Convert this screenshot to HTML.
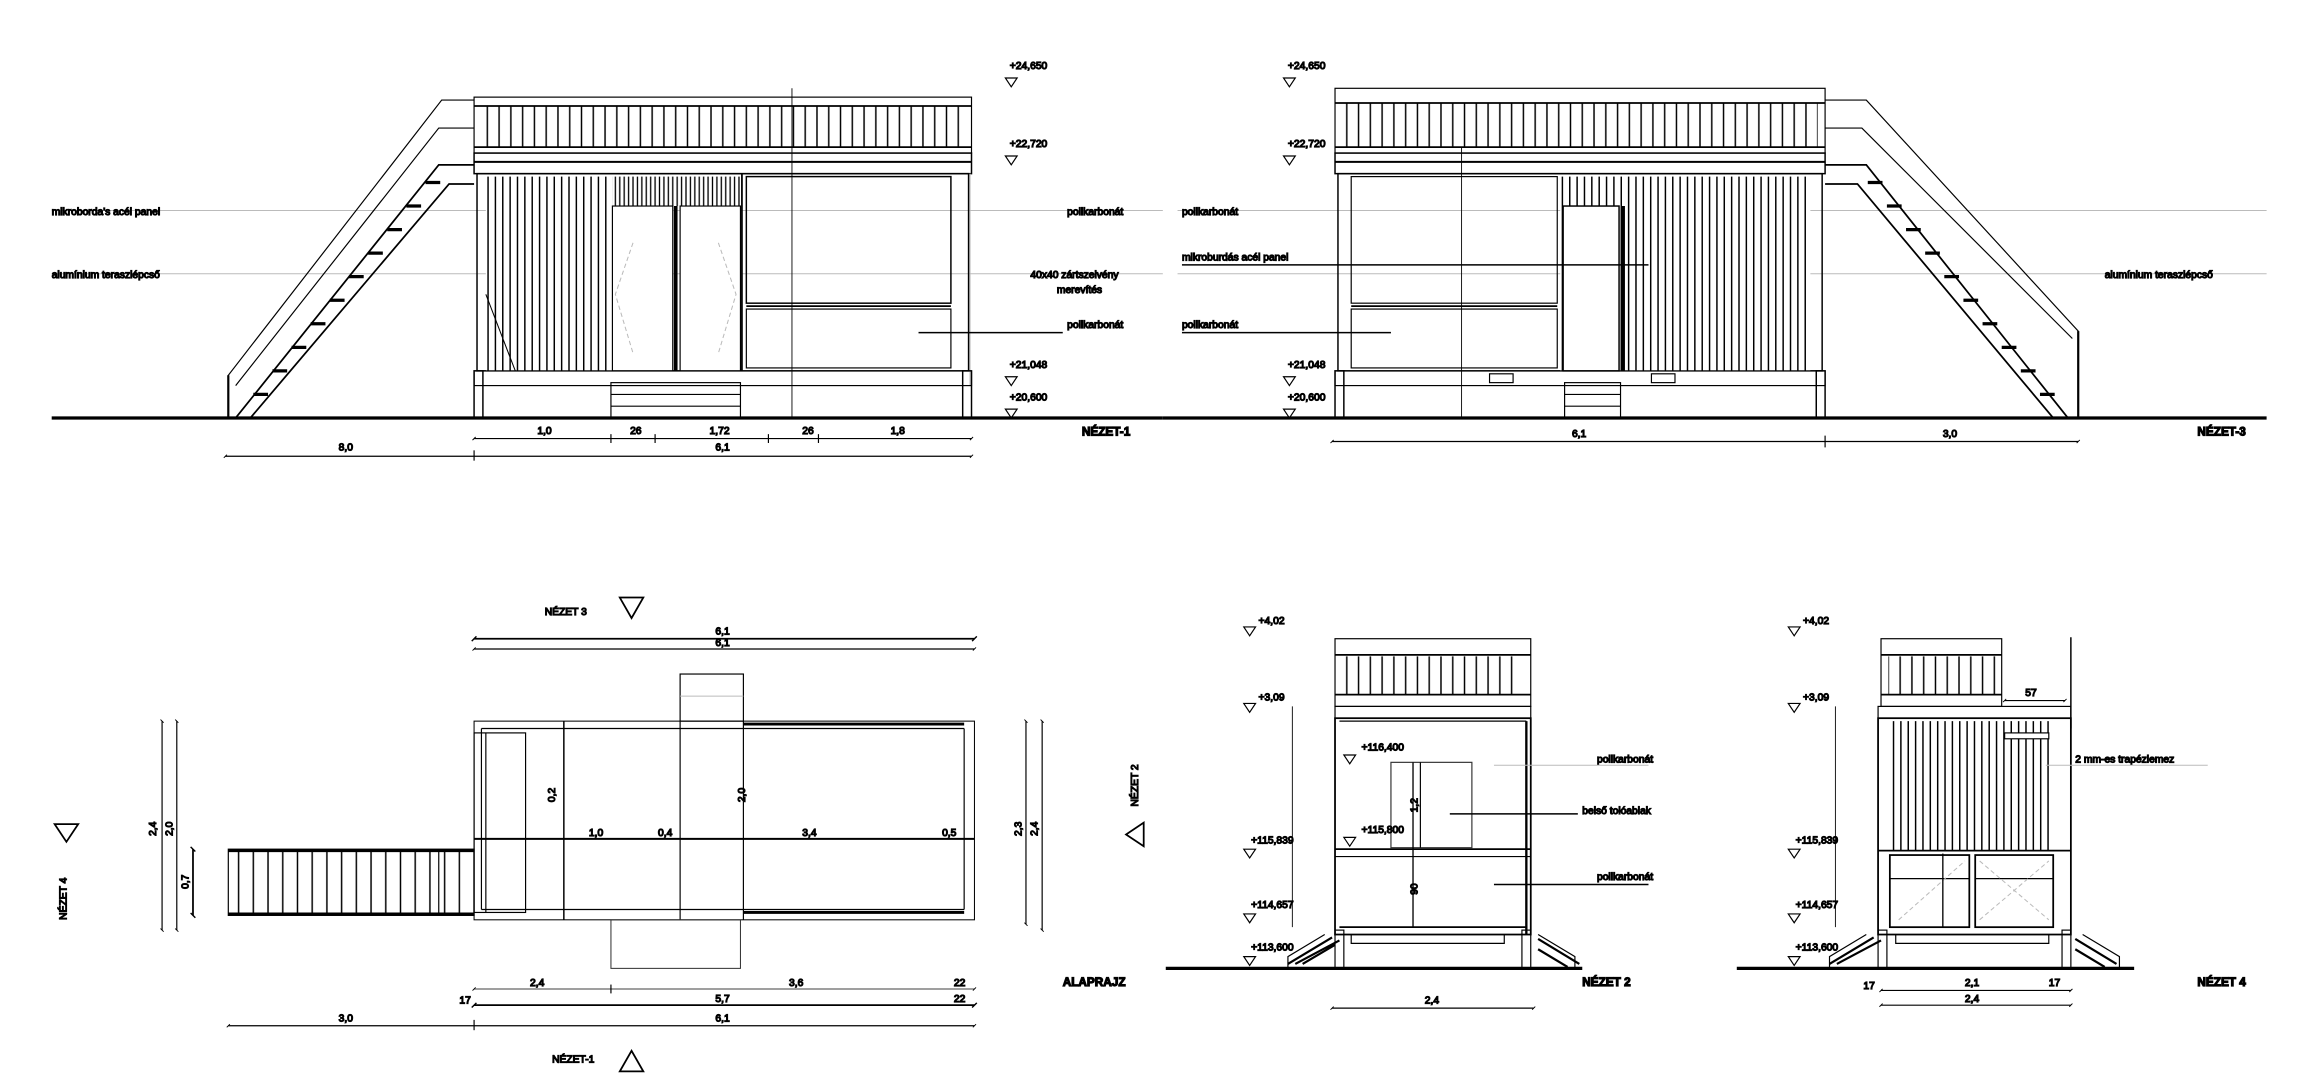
<!DOCTYPE html>
<html><head><meta charset="utf-8"><style>
html,body{margin:0;padding:0;background:#fff;}
svg{display:block;}
text{font-family:"Liberation Sans",sans-serif;font-size:7px;fill:#333;}
.b{font-weight:bold;font-size:8px;fill:#000;}
.g{stroke:#bbb;stroke-width:0.7;fill:none;}
</style></head><body>
<svg width="2308" height="1092" viewBox="0 0 1568 742" xmlns="http://www.w3.org/2000/svg">
<defs>
<pattern id="slat" width="5" height="10" patternUnits="userSpaceOnUse"><rect width="5" height="10" fill="#fff"/><line x1="1.5" y1="0" x2="1.5" y2="10" stroke="#000" stroke-width="1"/></pattern>
<pattern id="slat2" width="3" height="10" patternUnits="userSpaceOnUse"><rect width="3" height="10" fill="#fff"/><line x1="1" y1="0" x2="1" y2="10" stroke="#000" stroke-width="0.9"/></pattern>
<pattern id="rail" width="8" height="10" patternUnits="userSpaceOnUse"><rect width="8" height="10" fill="#fff"/><line x1="3" y1="0" x2="3" y2="10" stroke="#000" stroke-width="1"/></pattern>
<pattern id="step" width="10" height="10" patternUnits="userSpaceOnUse"><rect width="10" height="10" fill="#fff"/><line x1="2" y1="0" x2="2" y2="10" stroke="#000" stroke-width="1"/></pattern>
<marker id="t" viewBox="0 0 6 6" refX="3" refY="3" markerWidth="4" markerHeight="4" orient="auto"><line x1="1" y1="5" x2="5" y2="1" stroke="#000" stroke-width="1.2"/></marker>
</defs>
<g stroke="#000" fill="none" stroke-width="0.8">

<!-- ============ NEZET-1 ============ -->
<line x1="35" y1="284" x2="790" y2="284" stroke-width="2.2"/>
<line class="g" x1="35" y1="143" x2="790" y2="143"/>
<line class="g" x1="35" y1="186" x2="790" y2="186"/>
<rect x="322" y="66" width="338" height="38"/>
<rect x="328" y="72" width="326" height="28" fill="url(#rail)" stroke="none"/>
<line x1="322" y1="72" x2="660" y2="72" stroke-width="1.2"/>
<line x1="322" y1="100" x2="660" y2="100" stroke-width="1.2"/>
<rect x="322" y="104" width="338" height="14" stroke-width="1"/>
<line x1="322" y1="110" x2="660" y2="110" stroke-width="1.3"/>
<rect x="324" y="118" width="334" height="134" stroke-width="1"/>
<rect x="330" y="120" width="86" height="132" fill="url(#slat)" stroke="none"/>
<rect x="416" y="120" width="88" height="20" fill="url(#slat2)" stroke="none"/>
<rect x="416" y="140" width="41" height="112" fill="#fff"/>
<rect x="462" y="140" width="41" height="112" fill="#fff"/>
<line x1="459" y1="140" x2="459" y2="252" stroke-width="2.5"/>
<line x1="504" y1="118" x2="504" y2="252" stroke-width="1.2"/>
<rect x="507" y="120" width="139" height="86" stroke-width="1"/>
<line x1="507" y1="208" x2="646" y2="208" stroke-width="1.2"/>
<rect x="507" y="210" width="139" height="40"/>
<line x1="659" y1="118" x2="659" y2="262" class="g"/>
<path class="g" d="M430 165 L418 200 L430 240 M488 165 L500 200 L488 240" stroke-dasharray="3 2"/>
<line x1="330" y1="200" x2="350" y2="252" stroke-width="0.7"/>
<rect x="322" y="252" width="338" height="10"/>
<rect x="322" y="252" width="6" height="32" stroke-width="1"/>
<rect x="654" y="252" width="6" height="32" stroke-width="1"/>
<rect x="415" y="260" width="88" height="24"/>
<line x1="415" y1="268" x2="503" y2="268"/><line x1="415" y1="276" x2="503" y2="276"/>
<line x1="538" y1="60" x2="538" y2="284" stroke-width="0.6"/>
<path d="M155 284 L155 255 L300 68 L322 68"/>
<path d="M160 262 L298 87 L322 87"/>
<path d="M160 284 L298 112 L322 112" stroke-width="1.2"/>
<path d="M170 284 L305 125 L322 125" stroke-width="1.2"/>
<path d="M172 268 l10 0 M185 252 l10 0 M198 236 l10 0 M211 220 l10 0 M224 204 l10 0 M237 188 l10 0 M250 172 l10 0 M263 156 l10 0 M276 140 l10 0 M289 124 l10 0" stroke-width="2.2"/>
<line x1="155" y1="284" x2="155" y2="255" stroke-width="1.5"/>
<text x="35" y="146">mikroborda's acél panel</text>
<text x="35" y="189">alumínium teraszlépcső</text>
<text x="725" y="146">polikarbonát</text>
<text x="700" y="189">40x40 zártszelvény</text>
<text x="718" y="199">merevítés</text>
<text x="725" y="223">polikarbonát</text>
<line x1="624" y1="226" x2="722" y2="226" stroke-width="1"/>
<text x="686" y="47">+24,650</text><path d="M683 53 h8 l-4 6z"/>
<text x="686" y="100">+22,720</text><path d="M683 106 h8 l-4 6z"/>
<text x="686" y="250">+21,048</text><path d="M683 256 h8 l-4 6z"/>
<text x="686" y="272">+20,600</text><path d="M683 278 h8 l-4 6z"/>
<text class="b" x="735" y="296">NÉZET-1</text>
<line x1="322" y1="298" x2="660" y2="298" marker-start="url(#t)" marker-end="url(#t)"/>
<line x1="415" y1="295" x2="415" y2="301"/><line x1="445" y1="295" x2="445" y2="301"/><line x1="522" y1="295" x2="522" y2="301"/><line x1="556" y1="295" x2="556" y2="301"/>
<text x="365" y="295">1,0</text><text x="428" y="295">26</text><text x="482" y="295">1,72</text><text x="545" y="295">26</text><text x="605" y="295">1,8</text>
<line x1="153" y1="310" x2="660" y2="310" marker-start="url(#t)" marker-end="url(#t)"/>
<line x1="322" y1="306" x2="322" y2="313"/>
<text x="230" y="306">8,0</text><text x="486" y="306">6,1</text>

<!-- ============ NEZET-3 ============ -->
<line x1="790" y1="284" x2="1540" y2="284" stroke-width="2.2"/>
<line class="g" x1="800" y1="143" x2="1540" y2="143"/>
<line class="g" x1="800" y1="186" x2="1540" y2="186"/>
<rect x="907" y="60" width="333" height="44"/>
<rect x="913" y="70" width="322" height="30" fill="url(#rail)" stroke="none"/>
<line x1="907" y1="70" x2="1240" y2="70" stroke-width="1.2"/>
<line x1="907" y1="100" x2="1240" y2="100" stroke-width="1.2"/>
<rect x="907" y="104" width="333" height="14" stroke-width="1"/>
<line x1="907" y1="110" x2="1240" y2="110" stroke-width="1.3"/>
<rect x="909" y="118" width="329" height="134" stroke-width="1"/>
<rect x="918" y="120" width="140" height="86"/>
<line x1="918" y1="208" x2="1058" y2="208" stroke-width="1.2"/>
<rect x="918" y="210" width="140" height="40"/>
<rect x="1060" y="120" width="170" height="132" fill="url(#slat)" stroke="none"/>
<rect x="1062" y="140" width="38" height="112" fill="#fff" stroke-width="1"/>
<line x1="1103" y1="140" x2="1103" y2="252" stroke-width="2"/>
<line x1="993" y1="100" x2="993" y2="284" stroke-width="0.6"/>
<rect x="907" y="252" width="333" height="10"/>
<rect x="907" y="252" width="6" height="32" stroke-width="1"/>
<rect x="1234" y="252" width="6" height="32" stroke-width="1"/>
<rect x="1063" y="260" width="38" height="24"/>
<line x1="1063" y1="268" x2="1101" y2="268"/><line x1="1063" y1="276" x2="1101" y2="276"/>
<rect x="1012" y="254" width="16" height="6"/><rect x="1122" y="254" width="16" height="6"/>
<path d="M1412 284 L1412 225 L1268 68 L1240 68"/>
<path d="M1408 230 L1265 87 L1240 87"/>
<path d="M1405 284 L1268 112 L1240 112" stroke-width="1.2"/>
<path d="M1395 284 L1262 125 L1240 125" stroke-width="1.2"/>
<path d="M1386 268 l10 0 M1373 252 l10 0 M1360 236 l10 0 M1347 220 l10 0 M1334 204 l10 0 M1321 188 l10 0 M1308 172 l10 0 M1295 156 l10 0 M1282 140 l10 0 M1269 124 l10 0" stroke-width="2.2"/>
<line x1="1412" y1="284" x2="1412" y2="225" stroke-width="1.5"/>
<text x="803" y="146">polikarbonát</text>
<text x="803" y="177">mikroburdás acél panel</text>
<line x1="803" y1="180" x2="1120" y2="180" stroke-width="1"/>
<text x="803" y="223">polikarbonát</text>
<line x1="803" y1="226" x2="945" y2="226" stroke-width="1"/>
<text x="1430" y="189">alumínium teraszlépcső</text>
<text x="875" y="47">+24,650</text><path d="M872 53 h8 l-4 6z"/>
<text x="875" y="100">+22,720</text><path d="M872 106 h8 l-4 6z"/>
<text x="875" y="250">+21,048</text><path d="M872 256 h8 l-4 6z"/>
<text x="875" y="272">+20,600</text><path d="M872 278 h8 l-4 6z"/>
<text class="b" x="1493" y="296">NÉZET-3</text>
<line x1="905" y1="300" x2="1412" y2="300" marker-start="url(#t)" marker-end="url(#t)"/>
<line x1="1240" y1="296" x2="1240" y2="304"/>
<text x="1068" y="297">6,1</text><text x="1320" y="297">3,0</text>

<!-- ============ ALAPRAJZ ============ -->
<text x="370" y="418" style="fill:#888">NÉZET 3</text><path d="M421 406 h16 l-8 14z" stroke-width="1.2"/>
<line x1="322" y1="434" x2="662" y2="434" marker-start="url(#t)" marker-end="url(#t)" stroke-width="1.2"/>
<line x1="322" y1="441" x2="662" y2="441" marker-start="url(#t)" marker-end="url(#t)"/>
<text x="486" y="431">6,1</text><text x="486" y="439">6,1</text>
<rect x="462" y="458" width="43" height="32"/><line x1="462" y1="473" x2="505" y2="473" class="g"/>
<rect x="322" y="490" width="340" height="135" stroke-width="0.7"/>
<line x1="327" y1="495" x2="655" y2="495"/>
<line x1="327" y1="495" x2="327" y2="618"/>
<line x1="327" y1="618" x2="655" y2="618"/>
<line x1="655" y1="495" x2="655" y2="618"/>
<line x1="505" y1="492" x2="655" y2="492" stroke-width="2"/>
<line x1="505" y1="620" x2="655" y2="620" stroke-width="2"/>
<rect x="322" y="498" width="35" height="122"/>
<line x1="330" y1="498" x2="330" y2="620"/>
<line x1="383" y1="490" x2="383" y2="625" stroke-width="1"/>
<line x1="462" y1="490" x2="462" y2="625"/>
<line x1="505" y1="490" x2="505" y2="625"/>
<line x1="322" y1="570" x2="662" y2="570" stroke-width="1.3"/>
<rect x="415" y="625" width="88" height="33" class="g" style="stroke:#333"/>
<rect x="155" y="577" width="167" height="45" fill="url(#step)"/>
<line x1="155" y1="578" x2="322" y2="578" stroke-width="2"/>
<line x1="155" y1="621" x2="322" y2="621" stroke-width="2"/>
<line x1="298" y1="578" x2="298" y2="621"/>
<text x="400" y="568">1,0</text><text x="447" y="568">0,4</text><text x="545" y="568">3,4</text><text x="640" y="568">0,5</text>
<text x="377" y="545" transform="rotate(-90 377 545)">0,2</text>
<text x="506" y="545" transform="rotate(-90 506 545)">2,0</text>
<line x1="110" y1="490" x2="110" y2="632" marker-start="url(#t)" marker-end="url(#t)"/>
<line x1="120" y1="490" x2="120" y2="632" marker-start="url(#t)" marker-end="url(#t)"/>
<line x1="131" y1="577" x2="131" y2="622" marker-start="url(#t)" marker-end="url(#t)" stroke-width="1.2"/>
<text x="106" y="568" transform="rotate(-90 106 568)">2,4</text>
<text x="117" y="568" transform="rotate(-90 117 568)">2,0</text>
<text x="128" y="604" transform="rotate(-90 128 604)">0,7</text>
<text x="45" y="625" transform="rotate(-90 45 625)" style="fill:#888">NÉZET 4</text>
<path d="M37 560 h16 l-8 12z" stroke-width="1.2"/>
<line x1="697" y1="490" x2="697" y2="628" marker-start="url(#t)" marker-end="url(#t)"/>
<line x1="708" y1="490" x2="708" y2="632" marker-start="url(#t)" marker-end="url(#t)"/>
<text x="694" y="568" transform="rotate(-90 694 568)">2,3</text>
<text x="705" y="568" transform="rotate(-90 705 568)">2,4</text>
<text x="773" y="548" transform="rotate(-90 773 548)" style="fill:#888">NÉZET 2</text>
<path d="M777 559 v16 l-12 -8z" stroke-width="1.2"/>
<text class="b" x="722" y="670">ALAPRAJZ</text>
<line x1="322" y1="672" x2="662" y2="672" marker-start="url(#t)" marker-end="url(#t)" style="stroke:#666"/>
<line x1="415" y1="669" x2="415" y2="675"/>
<line x1="322" y1="683" x2="662" y2="683" marker-start="url(#t)" marker-end="url(#t)" stroke-width="1.2"/>
<line x1="155" y1="697" x2="662" y2="697" marker-start="url(#t)" marker-end="url(#t)"/>
<line x1="322" y1="693" x2="322" y2="700"/>
<text x="360" y="670">2,4</text><text x="536" y="670">3,6</text><text x="648" y="670">22</text>
<text x="312" y="682">17</text><text x="486" y="681">5,7</text><text x="648" y="681">22</text>
<text x="230" y="694">3,0</text><text x="486" y="694">6,1</text>
<text x="375" y="722" style="fill:#888">NÉZET-1</text><path d="M421 728 h16 l-8 -14z" stroke-width="1.2"/>

<!-- ============ NEZET 2 ============ -->
<line x1="792" y1="658" x2="1075" y2="658" stroke-width="2.2"/>
<rect x="907" y="434" width="133" height="46"/>
<rect x="913" y="446" width="121" height="26" fill="url(#rail)" stroke="none"/>
<line x1="907" y1="445" x2="1040" y2="445" stroke-width="1.2"/>
<line x1="907" y1="472" x2="1040" y2="472" stroke-width="1.2"/>
<rect x="907" y="480" width="133" height="8"/>
<rect x="907" y="488" width="133" height="147" stroke-width="1.2"/>
<line x1="910" y1="490" x2="1037" y2="490"/>
<line x1="907" y1="577" x2="1040" y2="577" stroke-width="1.2"/>
<line x1="907" y1="582" x2="1040" y2="582"/>
<line x1="1037" y1="490" x2="1037" y2="635" stroke-width="1.6"/>
<rect x="945" y="518" width="55" height="58" style="stroke:#333"/>
<line x1="965" y1="518" x2="965" y2="576"/>
<line x1="960" y1="518" x2="960" y2="630" stroke-width="0.9"/>
<line x1="910" y1="630" x2="1037" y2="630" stroke-width="1.2"/>
<path d="M918 635 v6 h104 v-6"/>
<rect x="907" y="632" width="6" height="26"/><rect x="1034" y="632" width="6" height="26"/>
<path d="M875 655 l30 -18 M880 655 l30 -16 M885 655 l22 -13 M1045 638 l28 17 M1045 645 l20 12" stroke-width="1.5"/>
<path d="M875 658 v-8 l25 -15"/><path d="M1070 658 v-8 l-25 -15"/>
<line x1="878" y1="480" x2="878" y2="630" stroke-width="0.6"/>
<text x="925" y="510">+116,400</text><path d="M913 513 h8 l-4 6z"/>
<text x="925" y="566">+115,800</text><path d="M913 569 h8 l-4 6z"/>
<text x="1085" y="518">polikarbonát</text>
<line class="g" x1="1015" y1="520" x2="1120" y2="520"/>
<text x="1075" y="553">belső tolóablak</text>
<line x1="985" y1="553" x2="1072" y2="553" stroke-width="1"/>
<text x="1085" y="598">polikarbonát</text>
<line x1="1015" y1="601" x2="1120" y2="601" stroke-width="1"/>
<text x="963" y="552" transform="rotate(-90 963 552)">1,2</text>
<text x="963" y="608" transform="rotate(-90 963 608)">90</text>
<text x="855" y="424">+4,02</text><path d="M845 426 h8 l-4 6z"/>
<text x="855" y="476">+3,09</text><path d="M845 478 h8 l-4 6z"/>
<text x="850" y="573">+115,839</text><path d="M845 577 h8 l-4 6z"/>
<text x="850" y="617">+114,657</text><path d="M845 621 h8 l-4 6z"/>
<text x="850" y="646">+113,600</text><path d="M845 650 h8 l-4 6z"/>
<text class="b" x="1075" y="670">NÉZET 2</text>
<line x1="905" y1="685" x2="1042" y2="685" marker-start="url(#t)" marker-end="url(#t)"/>
<text x="968" y="682">2,4</text>

<!-- ============ NEZET 4 ============ -->
<line x1="1180" y1="658" x2="1450" y2="658" stroke-width="2.2"/>
<rect x="1278" y="434" width="82" height="46"/>
<rect x="1283" y="446" width="73" height="26" fill="url(#rail)" stroke="none"/>
<line x1="1278" y1="445" x2="1360" y2="445" stroke-width="1.2"/>
<line x1="1278" y1="472" x2="1360" y2="472" stroke-width="1.2"/>
<line x1="1407" y1="433" x2="1407" y2="495" stroke-width="1"/>
<line x1="1362" y1="476" x2="1403" y2="476" marker-start="url(#t)" marker-end="url(#t)"/>
<text x="1376" y="473">57</text>
<rect x="1276" y="480" width="131" height="8"/>
<rect x="1276" y="488" width="131" height="147" stroke-width="1.2"/>
<rect x="1283" y="490" width="110" height="88" fill="url(#slat)" stroke="none"/>
<rect x="1362" y="498" width="30" height="4" fill="#fff"/>
<line x1="1276" y1="578" x2="1407" y2="578" stroke-width="1.2"/>
<rect x="1284" y="581" width="54" height="49" stroke-width="1.2"/>
<rect x="1342" y="581" width="53" height="49" stroke-width="1.2"/>
<line x1="1284" y1="597" x2="1338" y2="597"/><line x1="1342" y1="597" x2="1395" y2="597"/>
<path class="g" d="M1290 625 L1335 585 M1345 585 L1392 625 M1345 625 L1392 585" stroke-dasharray="3 2"/>
<line x1="1320" y1="580" x2="1320" y2="630" stroke-width="0.9"/>
<path d="M1288 635 v6 h104 v-6"/>
<rect x="1276" y="632" width="6" height="26"/><rect x="1401" y="632" width="6" height="26"/>
<path d="M1243 655 l30 -18 M1248 655 l30 -16 M1410 638 l28 17 M1410 645 l20 12" stroke-width="1.5"/>
<path d="M1243 658 v-8 l25 -15"/><path d="M1440 658 v-8 l-25 -15"/>
<line x1="1247" y1="480" x2="1247" y2="630" stroke-width="0.6"/>
<text x="1410" y="518">2 mm-es trapézlemez</text>
<line class="g" x1="1390" y1="520" x2="1500" y2="520"/>
<text x="1225" y="424">+4,02</text><path d="M1215 426 h8 l-4 6z"/>
<text x="1225" y="476">+3,09</text><path d="M1215 478 h8 l-4 6z"/>
<text x="1220" y="573">+115,839</text><path d="M1215 577 h8 l-4 6z"/>
<text x="1220" y="617">+114,657</text><path d="M1215 621 h8 l-4 6z"/>
<text x="1220" y="646">+113,600</text><path d="M1215 650 h8 l-4 6z"/>
<text class="b" x="1493" y="670">NÉZET 4</text>
<line x1="1278" y1="673" x2="1407" y2="673" marker-start="url(#t)" marker-end="url(#t)"/>
<line x1="1278" y1="683" x2="1407" y2="683" marker-start="url(#t)" marker-end="url(#t)"/>
<text x="1266" y="672">17</text><text x="1335" y="670">2,1</text><text x="1392" y="670">17</text>
<text x="1335" y="681">2,4</text>
</g>
</svg>
</body></html>
